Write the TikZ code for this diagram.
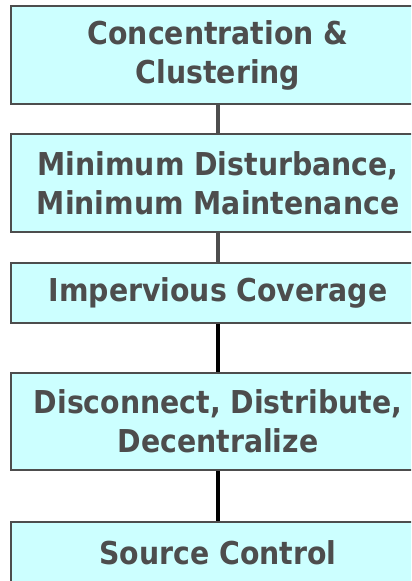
\documentclass[tikz,border=0pt]{standalone}
\usepackage{fontspec}
\setmainfont{DejaVu Sans Condensed}
\usepackage{xcolor}
\definecolor{boxfill}{HTML}{CCFFFF}
\definecolor{darkgrey}{HTML}{4D4D4D}

\begin{document}
\begin{tikzpicture}[x=1bp,y=-1bp,
    stagebox/.style={draw=darkgrey,line width=2.2bp,fill=boxfill,text=darkgrey,
      minimum width=414bp,align=center,inner sep=0pt,
      font=\fontsize{31.5bp}{39bp}\selectfont\bfseries},
    greylink/.style={darkgrey,line width=3.8bp},
    blacklink/.style={black,line width=3.8bp}]
  \useasboundingbox (0,0) rectangle (411,581);
  \clip (0,0) rectangle (411,581);
  \node (concentrate) at (218,55)[stagebox,minimum height=98bp]{Concentration \&\\Clustering};
       \node (disturb) at (218,183)[stagebox,minimum height=98bp]{Minimum Disturbance,\\Minimum Maintenance};
       \node (impervious) at (218,293)[stagebox,minimum height=60bp]{Impervious Coverage};
       \node (disconnect) at (218,421.5)[stagebox,minimum height=97bp]{Disconnect, Distribute,\\Decentralize};
       \node (source) at (218,553)[stagebox,minimum height=62bp]{Source Control};
  \draw [greylink] (concentrate) -- (disturb);
  \draw [greylink] (disturb) -- (impervious);
  \draw [blacklink] (impervious) -- (disconnect);
  \draw [blacklink] (disconnect) -- (source);
\end{tikzpicture}
\end{document}
